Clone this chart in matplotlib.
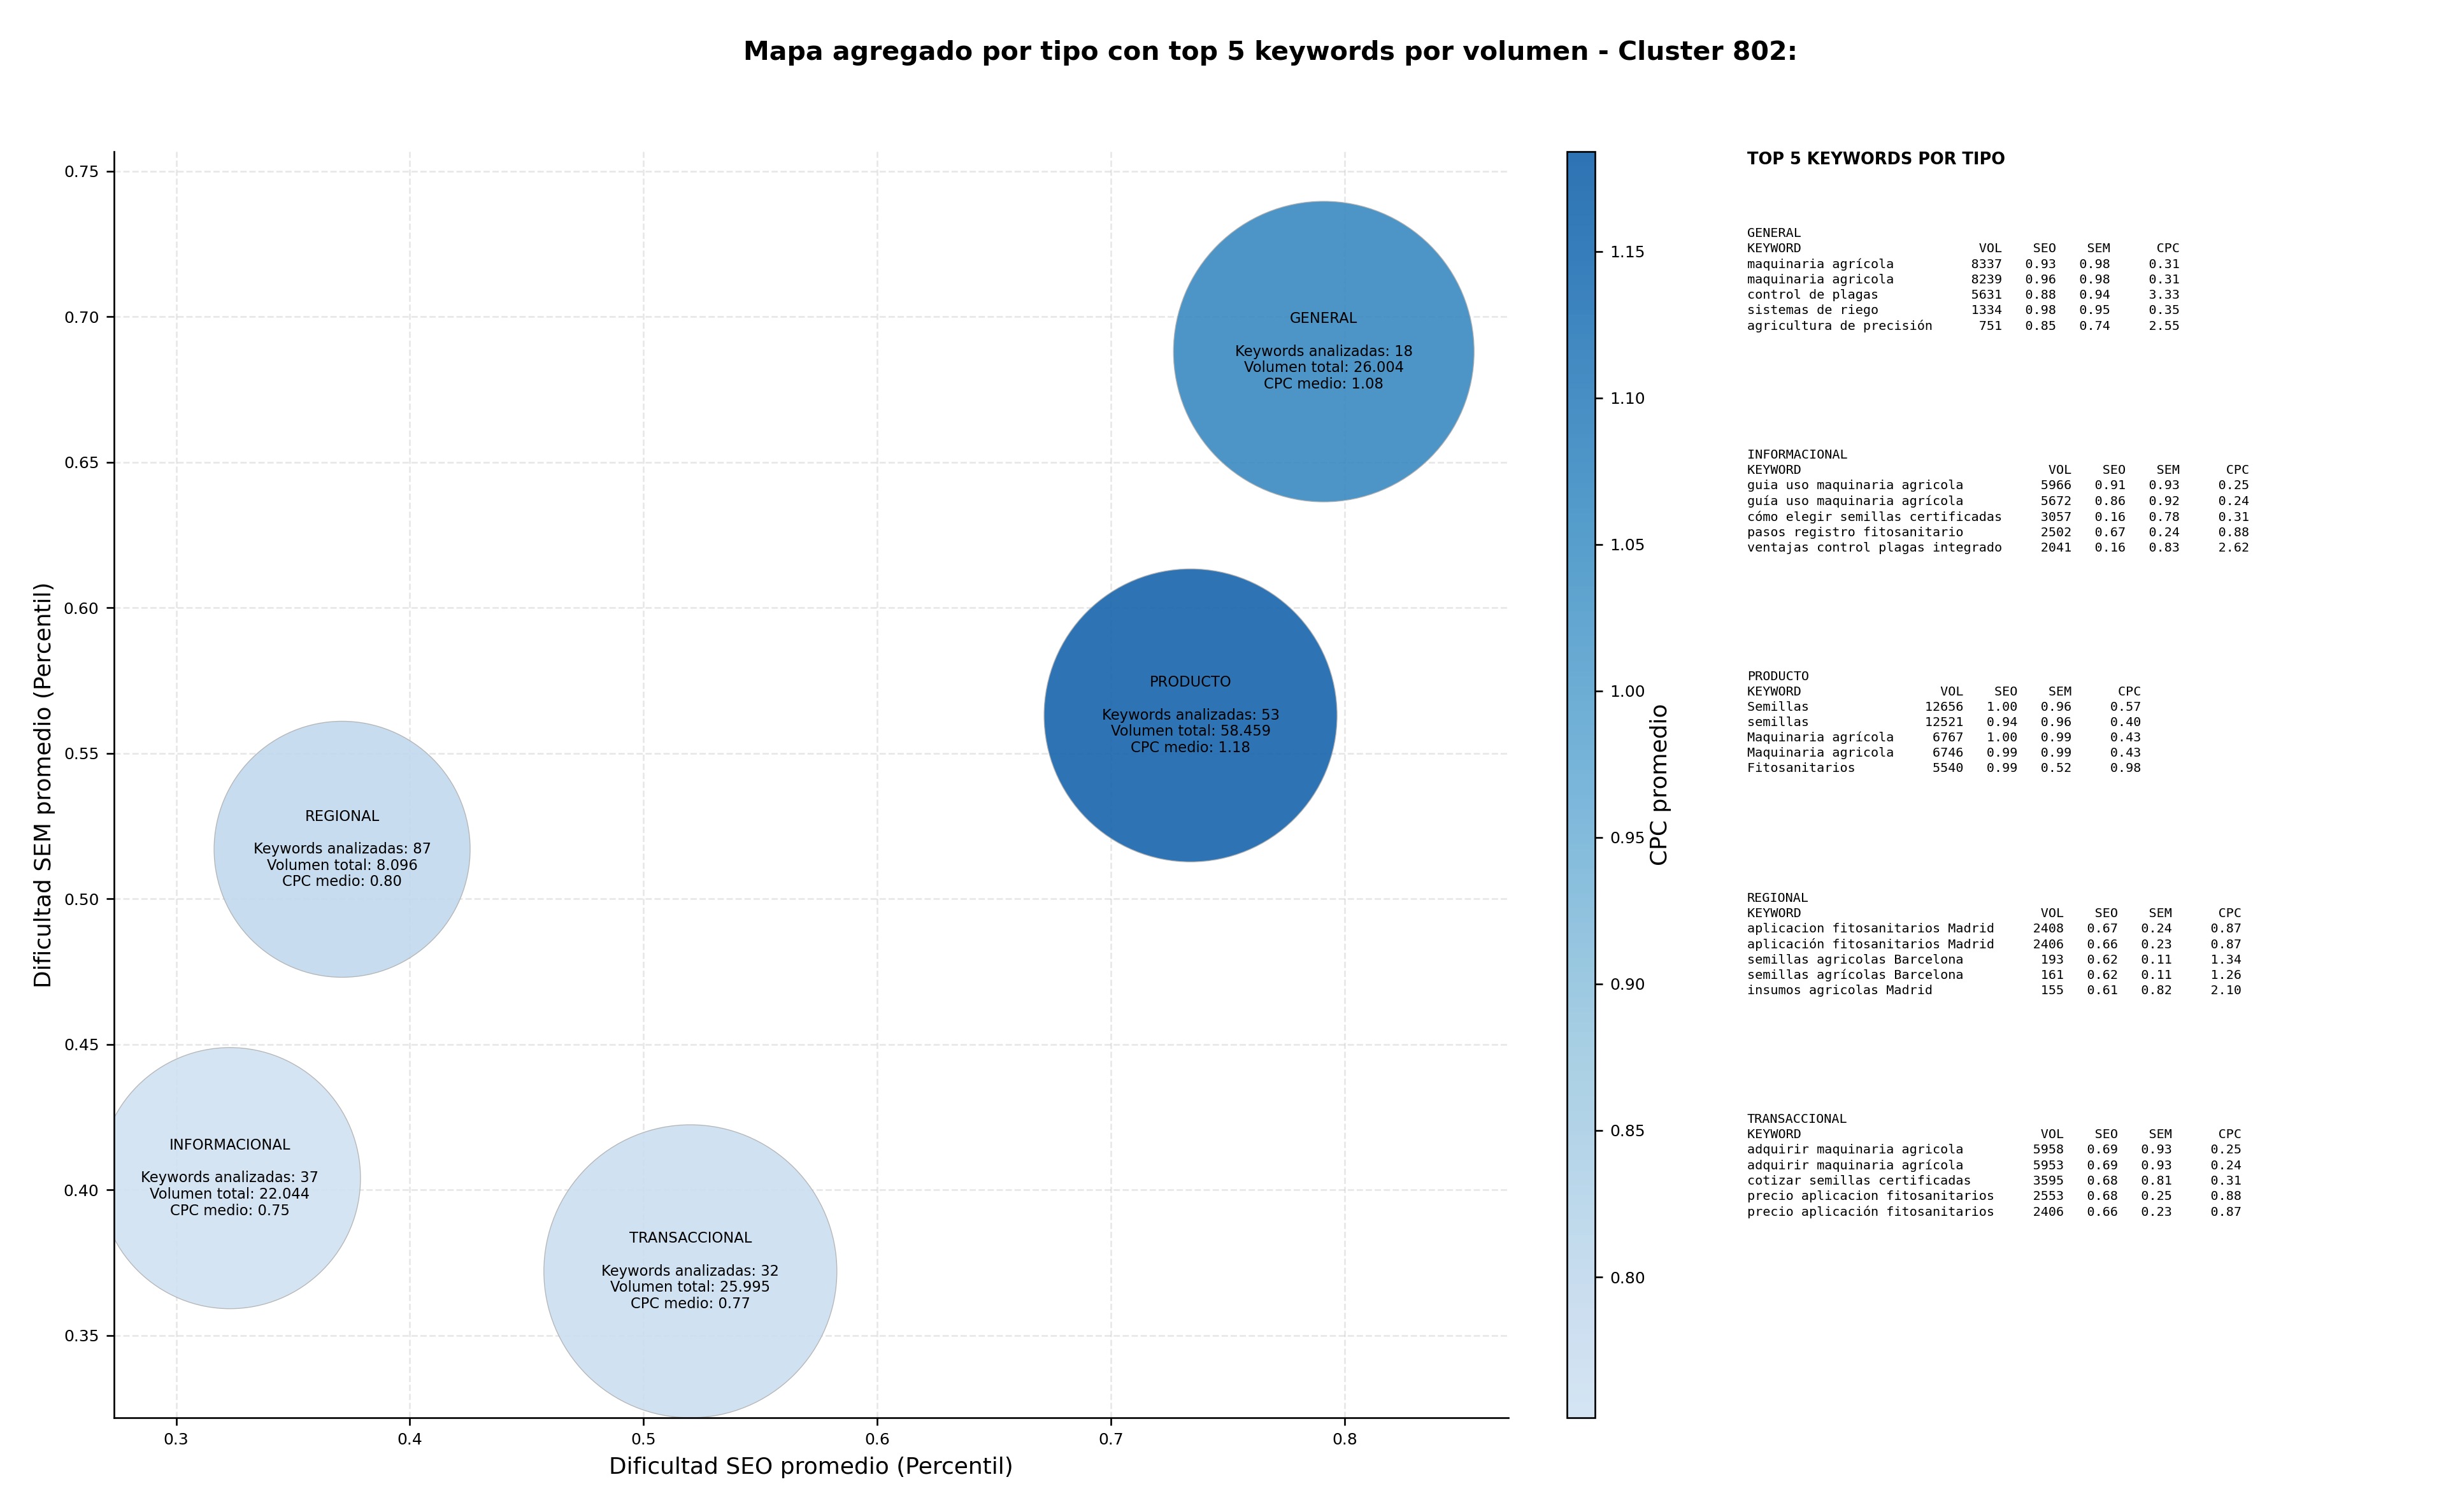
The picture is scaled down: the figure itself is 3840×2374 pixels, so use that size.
import matplotlib
matplotlib.use('Agg')
import matplotlib.pyplot as plt
import numpy as np
from matplotlib.colors import LinearSegmentedColormap

# Aggregated values per intent type
tipos = ['GENERAL', 'PRODUCTO', 'REGIONAL', 'INFORMACIONAL', 'TRANSACCIONAL']
seo_medio = [0.791, 0.734, 0.371, 0.323, 0.520]
sem_medio = [0.688, 0.563, 0.517, 0.404, 0.372]
cpc_medio = [1.08, 1.184, 0.80, 0.752, 0.77]
n_keywords = [18, 53, 87, 37, 32]
volumen_total = [26004, 58459, 8096, 22044, 25995]
bubble_size = [20050, 19044, 14544, 15129, 19044]

# Top 5 keywords per type (keyword, vol, seo, sem, cpc)
top_general = [
    ('maquinaria agrícola', 8337, 0.93, 0.98, 0.31),
    ('maquinaria agricola', 8239, 0.96, 0.98, 0.31),
    ('control de plagas', 5631, 0.88, 0.94, 3.33),
    ('sistemas de riego', 1334, 0.98, 0.95, 0.35),
    ('agricultura de precisión', 751, 0.85, 0.74, 2.55),
]
top_informacional = [
    ('guia uso maquinaria agricola', 5966, 0.91, 0.93, 0.25),
    ('guía uso maquinaria agrícola', 5672, 0.86, 0.92, 0.24),
    ('cómo elegir semillas certificadas', 3057, 0.16, 0.78, 0.31),
    ('pasos registro fitosanitario', 2502, 0.67, 0.24, 0.88),
    ('ventajas control plagas integrado', 2041, 0.16, 0.83, 2.62),
]
top_producto = [
    ('Semillas', 12656, 1.00, 0.96, 0.57),
    ('semillas', 12521, 0.94, 0.96, 0.40),
    ('Maquinaria agrícola', 6767, 1.00, 0.99, 0.43),
    ('Maquinaria agricola', 6746, 0.99, 0.99, 0.43),
    ('Fitosanitarios', 5540, 0.99, 0.52, 0.98),
]
top_regional = [
    ('aplicacion fitosanitarios Madrid', 2408, 0.67, 0.24, 0.87),
    ('aplicación fitosanitarios Madrid', 2406, 0.66, 0.23, 0.87),
    ('semillas agricolas Barcelona', 193, 0.62, 0.11, 1.34),
    ('semillas agrícolas Barcelona', 161, 0.62, 0.11, 1.26),
    ('insumos agricolas Madrid', 155, 0.61, 0.82, 2.10),
]
top_transaccional = [
    ('adquirir maquinaria agricola', 5958, 0.69, 0.93, 0.25),
    ('adquirir maquinaria agrícola', 5953, 0.69, 0.93, 0.24),
    ('cotizar semillas certificadas', 3595, 0.68, 0.81, 0.31),
    ('precio aplicacion fitosanitarios', 2553, 0.68, 0.25, 0.88),
    ('precio aplicación fitosanitarios', 2406, 0.66, 0.23, 0.87),
]
bloques = [('GENERAL', top_general), ('INFORMACIONAL', top_informacional),
           ('PRODUCTO', top_producto), ('REGIONAL', top_regional),
           ('TRANSACCIONAL', top_transaccional)]

# truncated Blues colormap
blues = plt.get_cmap('Blues')
cmap = LinearSegmentedColormap.from_list('blues_trunc', blues(np.linspace(0.2, 0.8, 256)))

fig = plt.figure(figsize=(16, 2374 / 240), dpi=240)
ax = fig.add_axes([0.0466, 0.0624, 0.5701, 0.8373])
cax = fig.add_axes([0.6406, 0.0624, 0.0115, 0.8373])

sc = ax.scatter(seo_medio, sem_medio, s=bubble_size, c=cpc_medio, cmap=cmap,
                alpha=0.9, edgecolors='#b0b0b0', linewidths=0.4, zorder=2)

for i, t in enumerate(tipos):
    vol = f"{volumen_total[i]:,}".replace(',', '.')
    label = (f"{t}\n\nKeywords analizadas: {n_keywords[i]}\n"
             f"Volumen total: {vol}\nCPC medio: {cpc_medio[i]:.2f}")
    ax.text(seo_medio[i], sem_medio[i], label, ha='center', va='center',
            fontsize=6.8, linespacing=1.15, zorder=3)

ax.set_xlim(0.2734, 0.870)
ax.set_ylim(0.3217, 0.7567)
ax.grid(True, linestyle='--', alpha=0.3, zorder=0)
ax.spines['top'].set_visible(False)
ax.spines['right'].set_visible(False)
ax.tick_params(labelsize=7.5)
ax.set_xlabel('Dificultad SEO promedio (Percentil)', fontsize=10.8)
ax.set_ylabel('Dificultad SEM promedio (Percentil)', fontsize=10.8)

cbar = fig.colorbar(sc, cax=cax)
cbar.ax.tick_params(labelsize=7.5)
cbar.set_label('CPC promedio', fontsize=10.8, labelpad=2)

fig.text(0.5195, 0.965, 'Mapa agregado por tipo con top 5 keywords por volumen - Cluster 802:',
         ha='center', va='center', fontsize=12.3, fontweight='bold')

# keyword table panel
fig.text(0.7143, 0.8997, 'TOP 5 KEYWORDS POR TIPO', ha='left', va='top',
         fontsize=7.7, fontweight='bold')
y = 0.8495
for nombre, filas in bloques:
    w = max(len(f[0]) for f in filas) + 2
    lines = [nombre, f"{'KEYWORD':<{w}}{'VOL':>7}{'SEO':>7}{'SEM':>7}{'CPC':>9}"]
    for kw, vol, seo, sem, cpc in filas:
        lines.append(f"{kw:<{w}}{vol:>7}{seo:>7.2f}{sem:>7.2f}{cpc:>9.2f}")
    fig.text(0.7143, y, '\n'.join(lines), ha='left', va='top',
             fontsize=6.05, linespacing=1.33, family='DejaVu Sans Mono')
    y -= 0.1465

fig.savefig('out.png', dpi=240)
